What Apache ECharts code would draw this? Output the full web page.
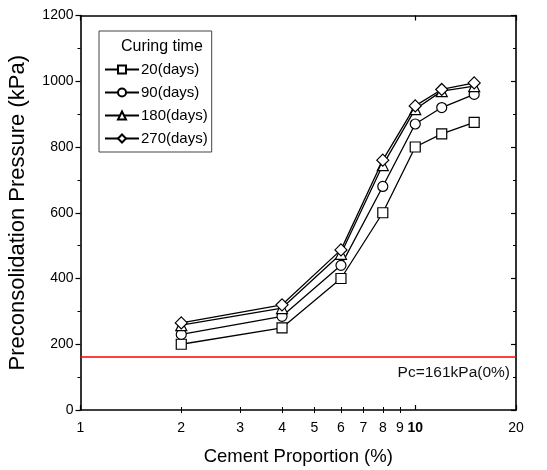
<!DOCTYPE html>
<html>
<head>
<meta charset="utf-8">
<script src="https://cdn.jsdelivr.net/npm/echarts@6/dist/echarts.min.js"></script>
<style>
  html, body { margin: 0; padding: 0; background: #fff; }
  #chart { width: 547px; height: 470px; }
</style>
</head>
<body>
<div id="chart"></div>
<script>
// Cement proportion (%) of each specimen group
const cement = [2, 4, 6, 8, 10, 12, 15];
// Preconsolidation pressure (kPa) for each curing time
const days20 = [200, 250, 400, 600, 800, 840, 875];
const days90 = [230, 285, 440, 680, 870, 920, 960];
const days180 = [258, 310, 475, 745, 915, 970, 985];
const days270 = [265, 320, 487, 760, 925, 975, 995];
const seriesNames = ['20(days)', '90(days)', '180(days)', '270(days)'];
const seriesSymbols = ['rect', 'circle', 'triangle', 'diamond'];
// Untreated clay reference pressure
const pcUntreated = 161;
const pcLabel = 'Pc=161kPa(0%)';
// Axis ticks
const xLabelValues = [1, 2, 3, 4, 5, 6, 7, 8, 9, 10, 20];
const xMajorTicks = [1, 10, 20];
const xMinorTicks = [2, 3, 4, 5, 6, 7, 8, 9];

const FONT = '"Liberation Sans", Arial, sans-serif';
const allValues = [days20, days90, days180, days270];

const chart = echarts.init(document.getElementById('chart'), null, { renderer: 'canvas' });

function xAxisBase(position) {
  return {
    type: 'log', logBase: 10, min: 1, max: 20, position: position,
    splitLine: { show: false }, axisPointer: { show: false }
  };
}

const symbolSizes = { rect: 10, circle: 10, triangle: 11, diamond: 12 };

const series = allValues.map((vals, i) => ({
  name: seriesNames[i],
  type: 'line',
  xAxisIndex: 0, yAxisIndex: 0,
  data: cement.map((c, j) => [c, vals[j]]),
  symbol: seriesSymbols[i],
  symbolSize: symbolSizes[seriesSymbols[i]],
  lineStyle: { color: '#000', width: 1.3 },
  itemStyle: { color: '#fff', borderColor: '#000', borderWidth: 1.2 },
  z: 3 + i,
  animation: false
}));

series[0].markLine = {
  silent: true,
  symbol: ['none', 'none'],
  animation: false,
  lineStyle: { color: '#ff0000', width: 1.6, type: 'solid' },
  label: {
    show: true, position: 'insideEndBottom', formatter: pcLabel,
    color: '#111', fontFamily: FONT, fontSize: 15.5, distance: [6, 8]
  },
  data: [{ yAxis: pcUntreated }]
};

const option = {
  backgroundColor: '#fff',
  animation: false,
  grid: { left: 80.5, right: 31, top: 15.5, bottom: 60, containLabel: false, outerBoundsMode: 'none' },
  legend: {
    orient: 'vertical',
    left: 99, top: 31,
    padding: [31, 4, 6, 5],
    itemGap: 8,
    itemWidth: 34, itemHeight: 10,
    borderColor: '#444', borderWidth: 1,
    textStyle: { fontFamily: FONT, fontSize: 15, color: '#000', padding: [0, 0, 0, -3] },
    data: seriesNames
  },
  graphic: [{
    type: 'text', left: 121, top: 39,
    style: { text: 'Curing time', fontFamily: FONT, fontSize: 16, fill: '#000' }
  }],
  xAxis: [
    Object.assign(xAxisBase('bottom'), {
      name: 'Cement Proportion (%)', nameLocation: 'middle', nameGap: 37,
      nameTextStyle: { fontFamily: FONT, fontSize: 18.5, color: '#000' },
      axisLine: { show: true, onZero: false, lineStyle: { color: '#000', width: 1.6 } },
      axisTick: { show: true, inside: true, length: 5, customValues: xMajorTicks, lineStyle: { color: '#000', width: 1.2 } },
      axisLabel: {
        customValues: xLabelValues, margin: 11,
        fontFamily: FONT, fontSize: 14, color: '#000',
        formatter: v => (Math.round(v) === 10 ? '{b|10}' : String(Math.round(v))),
        rich: { b: { fontFamily: FONT, fontSize: 14, fontWeight: 'bold', color: '#000' } }
      }
    }),
    Object.assign(xAxisBase('bottom'), {
      axisLine: { show: false },
      axisTick: { show: true, inside: true, length: 3, customValues: xMinorTicks, lineStyle: { color: '#000', width: 1 } },
      axisLabel: { show: false }
    }),
    Object.assign(xAxisBase('top'), {
      axisLine: { show: true, onZero: false, lineStyle: { color: '#000', width: 1.6 } },
      axisTick: { show: true, inside: true, length: 5, customValues: xMajorTicks, lineStyle: { color: '#000', width: 1.2 } },
      axisLabel: { show: false }
    }),
    Object.assign(xAxisBase('top'), {
      axisLine: { show: false },
      axisTick: { show: true, inside: true, length: 3, customValues: xMinorTicks, lineStyle: { color: '#000', width: 1 } },
      axisLabel: { show: false }
    })
  ],
  yAxis: [
    {
      type: 'value', min: 0, max: 1200, interval: 200, position: 'left',
      name: 'Preconsolidation Pressure (kPa)', nameLocation: 'middle', nameGap: 52,
      nameTextStyle: { fontFamily: FONT, fontSize: 22, color: '#000' },
      splitLine: { show: false },
      axisLine: { show: true, onZero: false, lineStyle: { color: '#000', width: 1.6 } },
      axisTick: { show: true, inside: false, length: 5, lineStyle: { color: '#000', width: 1.2 } },
      minorTick: { show: true, splitNumber: 2, length: 3, lineStyle: { color: '#000', width: 1 } },
      axisLabel: { margin: 7, fontFamily: FONT, fontSize: 14, color: '#000', formatter: v => String(v) }
    },
    {
      type: 'value', min: 0, max: 1200, interval: 200, position: 'right',
      splitLine: { show: false },
      axisLine: { show: true, onZero: false, lineStyle: { color: '#000', width: 1.6 } },
      axisTick: { show: true, inside: true, length: 5, lineStyle: { color: '#000', width: 1.2 } },
      minorTick: { show: true, splitNumber: 2, length: 3, lineStyle: { color: '#000', width: 1 } },
      axisLabel: { show: false }
    }
  ],
  series: series
};

chart.setOption(option);
</script>
</body>
</html>
